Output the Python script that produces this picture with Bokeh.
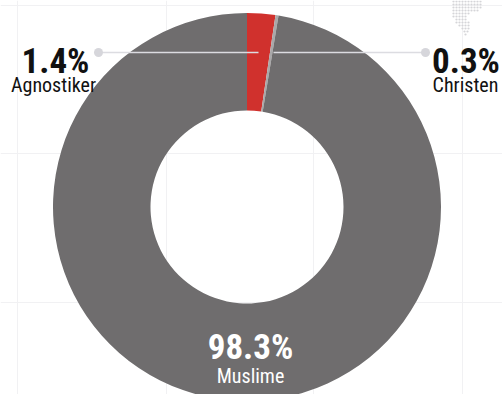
import math
from bokeh.plotting import figure
from bokeh.models import Range1d, ColumnDataSource
from bokeh.core.properties import value
from bokeh.embed import file_html
from bokeh.resources import INLINE

# ---- data ----
categories = ["Agnostiker", "Christen", "Muslime"]
label_values = ["1.4%", "0.3%", "98.3%"]
# slice sizes as drawn in the picture (percent)
slice_shares = [2.35, 0.25, 97.4]
slice_colors = ["#d0312d", "#a9a8a9", "#6f6d6e"]

W, H = 502, 394
p = figure(width=W, height=H, output_backend="svg", toolbar_location=None,
           x_range=Range1d(0, W), y_range=Range1d(0, H),
           min_border=0, outline_line_color=None, background_fill_color="white",
           border_fill_color="white")
p.axis.visible = False
p.grid.visible = False

def Y(py):
    return H - py

# faint background grid
for gx in [17, 166, 313, 462]:
    p.segment(x0=gx, y0=Y(0), x1=gx, y1=Y(394), line_color="#f1f1f3", line_width=1)
for gy in [5, 153, 302]:
    p.segment(x0=0, y0=Y(gy), x1=502, y1=Y(gy), line_color="#f1f1f3", line_width=1)

# small dotted decoration top right
dx, dy = [], []
rows = [(453, 482), (453, 482), (453, 482), (453, 479), (453, 470), (453, 467),
        (456, 467), (456, 470), (459, 470), (462, 468), (464, 467), (465, 467)]
for i, (a, b) in enumerate(rows):
    x = a
    while x <= b:
        dx.append(x)
        dy.append(Y(1 + i * 3))
        x += 3
p.scatter(dx, dy, size=2.2, color="#d5d5d8", line_color=None)

# donut
cx, cy = 246.5, Y(206.5)
r_out, r_in = 194, 96.5
total = sum(slice_shares)
starts, ends = [], []
acc = 0.0
for s in slice_shares:
    a0 = math.pi / 2 - 2 * math.pi * acc / total
    acc += s
    a1 = math.pi / 2 - 2 * math.pi * acc / total
    starts.append(a0)
    ends.append(a1)
src = ColumnDataSource(dict(start=starts, end=ends, color=slice_colors, cat=categories))
p.annular_wedge(x=cx, y=cy, inner_radius=r_in, outer_radius=r_out,
                start_angle="start", end_angle="end", direction="clock",
                fill_color="color", line_color=None, source=src)

# leader lines
p.segment(x0=[98, 273], y0=[Y(52), Y(52)], x1=[258, 425], y1=[Y(52), Y(52)],
          line_color="#dcdce1", line_width=1.5)
p.scatter([98, 425], [Y(52), Y(52)], size=9, color="#d6d6db", line_color=None)

font = value("Roboto Condensed")
# percentage labels
p.text(x=[55, 465.5, 250], y=[Y(61), Y(61), Y(347)], text=label_values,
       text_font=font, text_font_style="bold", text_font_size="35px",
       text_color=["#111111", "#111111", "#ffffff"],
       text_align="center", text_baseline="alphabetic")
p.text(x=[53, 465, 250], y=[Y(84), Y(84), Y(375)], text=categories,
       text_font=font, text_font_size="20px",
       text_color=["#111111", "#111111", "#ffffff"],
       text_align="center", text_baseline="alphabetic")

open("out.html", "w").write(file_html(p, INLINE))
